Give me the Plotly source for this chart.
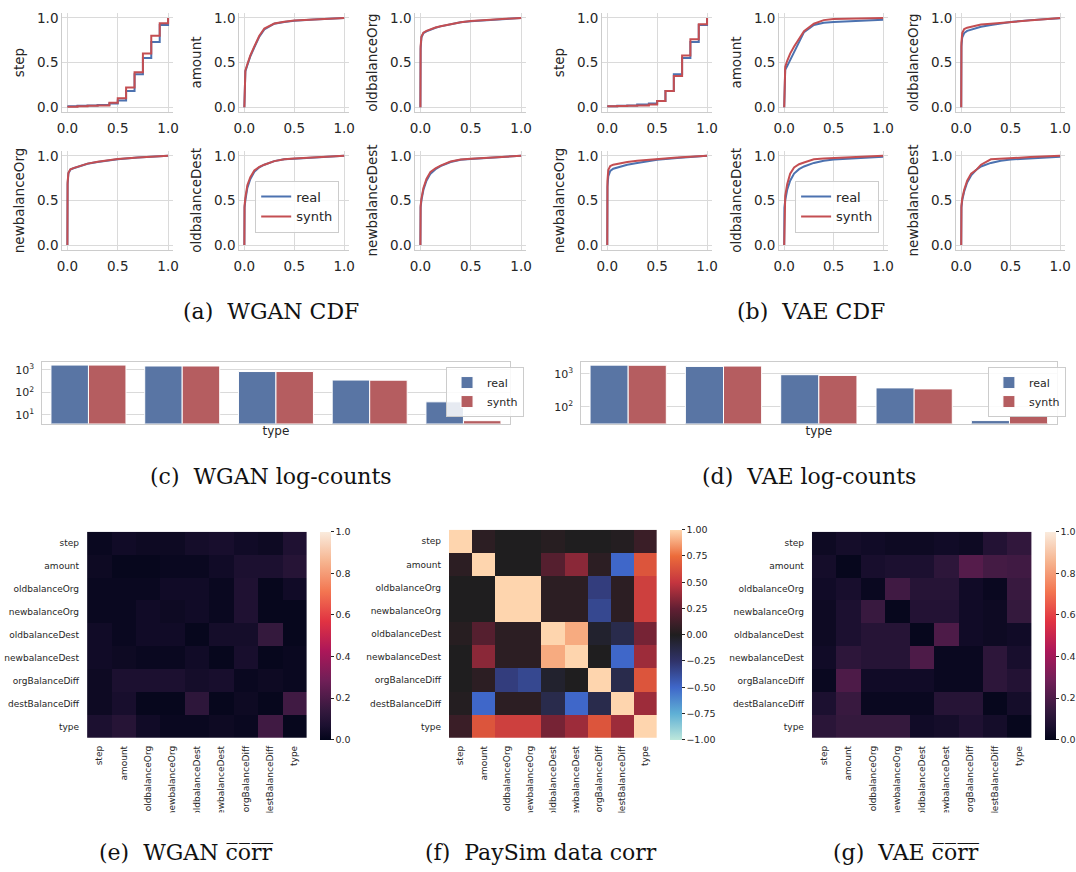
import plotly.graph_objects as go

W, H = 1076, 872

# ---------------- DATA ----------------
cdf_x = [0, 0.002, 0.01, 0.03, 0.06, 0.1, 0.15, 0.2, 0.3, 0.4, 0.5, 0.7, 1.0]

step_x = [0, 0.1, 0.2, 0.3, 0.417, 0.5, 0.583, 0.667, 0.75, 0.833, 0.917, 1.0]
wgan_step_real = [0.01, 0.015, 0.02, 0.025, 0.04, 0.075, 0.18, 0.37, 0.55, 0.73, 0.92, 1.0]
wgan_step_synth = [0.005, 0.01, 0.015, 0.02, 0.05, 0.10, 0.22, 0.39, 0.60, 0.80, 0.94, 1.0]
vae_step_real = [0.01, 0.015, 0.02, 0.03, 0.04, 0.07, 0.18, 0.37, 0.55, 0.73, 0.92, 1.0]
vae_step_synth = [0.01, 0.012, 0.015, 0.02, 0.03, 0.07, 0.18, 0.35, 0.58, 0.76, 0.93, 1.0]

wgan_amount_real = [0, 0.20, 0.40, 0.47, 0.57, 0.67, 0.79, 0.87, 0.935, 0.955, 0.968, 0.982, 1.0]
wgan_amount_synth = [0, 0.25, 0.41, 0.48, 0.58, 0.68, 0.80, 0.88, 0.937, 0.957, 0.970, 0.983, 1.0]
wgan_obo_real = [0, 0.65, 0.78, 0.83, 0.85, 0.87, 0.89, 0.905, 0.93, 0.95, 0.962, 0.98, 1.0]
wgan_obo_synth = [0, 0.68, 0.79, 0.835, 0.855, 0.873, 0.892, 0.907, 0.932, 0.952, 0.964, 0.981, 1.0]
wgan_nbo_real = [0, 0.68, 0.80, 0.845, 0.86, 0.875, 0.895, 0.91, 0.93, 0.95, 0.962, 0.98, 1.0]
wgan_nbo_synth = [0, 0.70, 0.81, 0.848, 0.862, 0.878, 0.897, 0.912, 0.932, 0.951, 0.963, 0.981, 1.0]
wgan_obd_real = [0, 0.42, 0.50, 0.64, 0.74, 0.82, 0.87, 0.90, 0.94, 0.96, 0.968, 0.98, 1.0]
wgan_obd_synth = [0, 0.44, 0.53, 0.67, 0.76, 0.835, 0.875, 0.90, 0.94, 0.962, 0.97, 0.982, 1.0]
wgan_nbd_real = [0, 0.42, 0.50, 0.62, 0.72, 0.80, 0.85, 0.885, 0.93, 0.955, 0.965, 0.98, 1.0]
wgan_nbd_synth = [0, 0.44, 0.52, 0.64, 0.74, 0.82, 0.86, 0.89, 0.935, 0.957, 0.967, 0.981, 1.0]

vae_amount_real = [0, 0.30, 0.42, 0.46, 0.53, 0.62, 0.73, 0.84, 0.92, 0.945, 0.955, 0.968, 0.98]
vae_amount_synth = [0, 0.35, 0.45, 0.52, 0.60, 0.68, 0.76, 0.85, 0.935, 0.975, 0.988, 0.995, 1.0]
vae_obo_real = [0, 0.68, 0.78, 0.83, 0.855, 0.87, 0.885, 0.90, 0.92, 0.94, 0.955, 0.975, 0.995]
vae_obo_synth = [0, 0.72, 0.83, 0.875, 0.89, 0.90, 0.915, 0.925, 0.935, 0.945, 0.955, 0.975, 1.0]
vae_nbo_real = [0, 0.65, 0.77, 0.83, 0.855, 0.87, 0.885, 0.90, 0.92, 0.94, 0.955, 0.975, 1.0]
vae_nbo_synth = [0, 0.72, 0.84, 0.885, 0.90, 0.91, 0.92, 0.93, 0.945, 0.955, 0.965, 0.98, 1.0]
vae_obd_real = [0, 0.42, 0.50, 0.62, 0.72, 0.80, 0.85, 0.88, 0.92, 0.945, 0.958, 0.972, 0.99]
vae_obd_synth = [0, 0.45, 0.55, 0.68, 0.80, 0.87, 0.905, 0.925, 0.96, 0.97, 0.975, 0.985, 1.0]
vae_nbd_real = [0, 0.42, 0.50, 0.60, 0.70, 0.78, 0.84, 0.88, 0.92, 0.945, 0.958, 0.972, 0.99]
vae_nbd_synth = [0, 0.44, 0.52, 0.62, 0.72, 0.80, 0.84, 0.90, 0.96, 0.968, 0.972, 0.985, 1.0]

type_cats = ["c1", "c2", "c3", "c4", "c5"]
wgan_counts_real = [1650, 1500, 850, 355, 38]
wgan_counts_synth = [1650, 1500, 850, 350, 5.5]
vae_counts_real = [1815, 1660, 935, 375, 39]
vae_counts_synth = [1800, 1700, 890, 350, 52]

feat = ["step", "amount", "oldbalanceOrg", "newbalanceOrg", "oldbalanceDest",
        "newbalanceDest", "orgBalanceDiff", "destBalanceDiff", "type"]

corr_wgan = [
    [0.02, 0.04, 0.03, 0.03, 0.05, 0.06, 0.04, 0.03, 0.08],
    [0.03, 0.01, 0.01, 0.02, 0.02, 0.04, 0.07, 0.07, 0.10],
    [0.02, 0.02, 0.02, 0.04, 0.04, 0.02, 0.08, 0.01, 0.04],
    [0.02, 0.02, 0.04, 0.03, 0.04, 0.02, 0.08, 0.01, 0.01],
    [0.04, 0.02, 0.04, 0.04, 0.01, 0.05, 0.05, 0.14, 0.01],
    [0.04, 0.03, 0.02, 0.02, 0.04, 0.01, 0.06, 0.01, 0.02],
    [0.03, 0.07, 0.07, 0.07, 0.05, 0.06, 0.02, 0.03, 0.02],
    [0.03, 0.06, 0.01, 0.01, 0.12, 0.01, 0.03, 0.01, 0.17],
    [0.07, 0.10, 0.04, 0.02, 0.02, 0.03, 0.02, 0.17, 0.01],
]
corr_paysim = [
    [1.00, 0.05, 0.00, 0.00, 0.03, 0.00, 0.00, 0.02, 0.10],
    [0.05, 1.00, 0.00, 0.00, 0.20, 0.35, 0.05, -0.50, 0.65],
    [0.00, 0.00, 1.00, 1.00, 0.05, 0.05, -0.30, 0.05, 0.55],
    [0.00, 0.00, 1.00, 1.00, 0.05, 0.05, -0.35, 0.05, 0.55],
    [0.03, 0.20, 0.05, 0.05, 1.00, 0.90, -0.05, -0.15, 0.30],
    [0.00, 0.35, 0.05, 0.05, 0.90, 1.00, 0.00, -0.50, 0.40],
    [0.00, 0.05, -0.30, -0.35, -0.05, 0.00, 1.00, -0.15, 0.65],
    [0.02, -0.50, 0.05, 0.05, -0.15, -0.50, -0.15, 1.00, 0.40],
    [0.10, 0.65, 0.55, 0.55, 0.30, 0.40, 0.65, 0.40, 1.00],
]
corr_vae = [
    [0.03, 0.05, 0.04, 0.03, 0.03, 0.04, 0.03, 0.09, 0.13],
    [0.05, 0.01, 0.06, 0.07, 0.07, 0.12, 0.22, 0.18, 0.17],
    [0.04, 0.06, 0.02, 0.17, 0.10, 0.10, 0.04, 0.02, 0.15],
    [0.03, 0.07, 0.15, 0.01, 0.09, 0.09, 0.04, 0.03, 0.14],
    [0.03, 0.07, 0.10, 0.10, 0.01, 0.20, 0.04, 0.03, 0.04],
    [0.04, 0.12, 0.10, 0.10, 0.20, 0.02, 0.02, 0.12, 0.06],
    [0.02, 0.20, 0.04, 0.04, 0.04, 0.02, 0.02, 0.12, 0.09],
    [0.07, 0.15, 0.02, 0.02, 0.02, 0.10, 0.10, 0.01, 0.05],
    [0.11, 0.14, 0.14, 0.14, 0.04, 0.05, 0.08, 0.05, 0.01],
]

# ---------------- STYLE ----------------
BLUE = "#4c72b0"
RED = "#c44e52"
BAR_BLUE = "#5975a4"
BAR_RED = "#b55d60"
TXT = "#262626"
GRID = "#dadada"
SPINE = "#cccccc"

rocket = [[0.0, "#03051a"], [0.07, "#1c1030"], [0.143, "#35193e"], [0.286, "#701f57"],
          [0.429, "#ad1759"], [0.571, "#e13342"], [0.714, "#f37651"],
          [0.857, "#f6b48f"], [1.0, "#faebdd"]]
icefire = [[0.0, "#bde7db"], [0.125, "#5fb0d5"], [0.25, "#3f67c9"], [0.375, "#30336a"],
           [0.5, "#1f1e1f"], [0.625, "#621f33"], [0.75, "#c5353f"],
           [0.875, "#ec6b3a"], [1.0, "#fed5ae"]]


def dx(a, b):
    return [a / W, b / W]


def dy(top, bottom):
    return [1 - bottom / H, 1 - top / H]


fig = go.Figure()
layout = {}
counter = [0]


def new_axes(xpx, ypx, xcfg, ycfg):
    counter[0] += 1
    n = counter[0]
    sx = "" if n == 1 else str(n)
    xcfg = dict(xcfg, domain=dx(*xpx), anchor="y" + sx)
    ycfg = dict(ycfg, domain=dy(*ypx), anchor="x" + sx)
    layout["xaxis" + sx] = xcfg
    layout["yaxis" + sx] = ycfg
    return "x" + sx, "y" + sx


# ---------------- CDF PANELS ----------------
cdf_cols = {"wgan": [(57, 169), (236, 347), (414, 526)],
            "vae": [(603, 714), (782, 892), (961, 1071)]}
cdf_rows = [(9.5, 108.5), (148.5, 247.5)]

panels = {
    "wgan": [("step", step_x, wgan_step_real, wgan_step_synth, "hv"),
             ("amount", cdf_x, wgan_amount_real, wgan_amount_synth, "linear"),
             ("oldbalanceOrg", cdf_x, wgan_obo_real, wgan_obo_synth, "linear"),
             ("newbalanceOrg", cdf_x, wgan_nbo_real, wgan_nbo_synth, "linear"),
             ("oldbalanceDest", cdf_x, wgan_obd_real, wgan_obd_synth, "linear"),
             ("newbalanceDest", cdf_x, wgan_nbd_real, wgan_nbd_synth, "linear")],
    "vae": [("step", step_x, vae_step_real, vae_step_synth, "hv"),
            ("amount", cdf_x, vae_amount_real, vae_amount_synth, "linear"),
            ("oldbalanceOrg", cdf_x, vae_obo_real, vae_obo_synth, "linear"),
            ("newbalanceOrg", cdf_x, vae_nbo_real, vae_nbo_synth, "linear"),
            ("oldbalanceDest", cdf_x, vae_obd_real, vae_obd_synth, "linear"),
            ("newbalanceDest", cdf_x, vae_nbd_real, vae_nbd_synth, "linear")],
}

for model, legname in (("wgan", "legend"), ("vae", "legend2")):
    for i, (name, xs, yr, ys, shape) in enumerate(panels[model]):
        r, c = divmod(i, 3)
        common = dict(range=[-0.05, 1.05], tickvals=[0, 0.5, 1], tickformat=".1f",
                      showgrid=True, gridcolor=GRID, gridwidth=1.3, zeroline=False,
                      showline=True, linecolor=SPINE, linewidth=1.3, ticks="",
                      tickfont=dict(size=13.5, color=TXT))
        xa = dict(common, ticklabelstandoff=4)
        ya = dict(common, title=dict(text=name, font=dict(size=13.5, color=TXT), standoff=9))
        xr, yrf = new_axes(cdf_cols[model][c], cdf_rows[r], xa, ya)
        show = (i == 4)
        fig.add_trace(go.Scatter(x=xs, y=yr, mode="lines", line=dict(color=BLUE, width=2, shape=shape),
                                 name="real", xaxis=xr, yaxis=yrf, showlegend=show, legend=legname))
        fig.add_trace(go.Scatter(x=xs, y=ys, mode="lines", line=dict(color=RED, width=2, shape=shape),
                                 name="synth", xaxis=xr, yaxis=yrf, showlegend=show, legend=legname))

# ---------------- BAR CHARTS ----------------
bar_specs = [((36, 510), (361, 423), [0.61, 3.35], [10, 100, 1000],
              ["10<sup>1</sup>", "10<sup>2</sup>", "10<sup>3</sup>"],
              wgan_counts_real, wgan_counts_synth, "legend3"),
             ((581, 1063), (361, 423), [1.50, 3.35], [100, 1000],
              ["10<sup>2</sup>", "10<sup>3</sup>"],
              vae_counts_real, vae_counts_synth, "legend4")]
for xpx, ypx, yrng, tv, tt, real, synth, legname in bar_specs:
    xa = dict(type="category", range=[-0.5, 4.5], showticklabels=False, showgrid=False,
              showline=True, mirror=True, linecolor=SPINE, linewidth=1.3, ticks="",
              title=dict(text="type", font=dict(size=12, color=TXT), standoff=2))
    ya = dict(type="log", range=yrng, tickvals=tv, ticktext=tt, showgrid=True, gridcolor=GRID,
              gridwidth=1.3, showline=True, mirror=True, linecolor=SPINE, linewidth=1.3,
              ticks="", zeroline=False, tickfont=dict(size=11, color=TXT), ticklabelstandoff=4)
    xr, yrf = new_axes(xpx, ypx, xa, ya)
    fig.add_trace(go.Bar(x=type_cats, y=real, name="real", marker=dict(color=BAR_BLUE, line=dict(color="white", width=1)),
                         xaxis=xr, yaxis=yrf, legend=legname))
    fig.add_trace(go.Bar(x=type_cats, y=synth, name="synth", marker=dict(color=BAR_RED, line=dict(color="white", width=1)),
                         xaxis=xr, yaxis=yrf, legend=legname))

# ---------------- HEATMAPS ----------------
heat_specs = [((82, 304), (532, 740), corr_wgan, rocket, 0, 1, (318, 11),
               [0, 0.2, 0.4, 0.6, 0.8, 1.0], ".1f"),
              ((448, 658), (530, 740), corr_paysim, icefire, -1, 1, (671, 12),
               [-1, -0.75, -0.5, -0.25, 0, 0.25, 0.5, 0.75, 1.0], ".2f"),
              ((815, 1037), (532, 740), corr_vae, rocket, 0, 1, (1051, 11),
               [0, 0.2, 0.4, 0.6, 0.8, 1.0], ".1f")]
for xpx, ypx, z, cs, zmin, zmax, (cbx, cbw), cbt, cbf in heat_specs:
    xa = dict(showgrid=False, zeroline=False, ticks="", tickangle=-90,
              tickfont=dict(size=9, color=TXT), ticklabelstandoff=5)
    ya = dict(showgrid=False, zeroline=False, ticks="", autorange="reversed",
              tickfont=dict(size=9, color=TXT), ticklabelstandoff=7)
    xr, yrf = new_axes(xpx, ypx, xa, ya)
    fig.add_trace(go.Heatmap(
        z=z, x=feat, y=feat, colorscale=cs, zmin=zmin, zmax=zmax, xaxis=xr, yaxis=yrf,
        colorbar=dict(x=cbx / W, xanchor="left", y=1 - ypx[0] / H, yanchor="top",
                      len=ypx[1] - ypx[0], lenmode="pixels", thickness=cbw,
                      thicknessmode="pixels", outlinewidth=0, xpad=0, ypad=0,
                      ticks="outside", ticklen=3, tickcolor=TXT, tickvals=cbt,
                      tickformat=cbf, tickfont=dict(size=9.5, color=TXT))))

# ---------------- LEGENDS / CAPTIONS ----------------
leg_common = dict(bgcolor="rgba(255,255,255,0.85)", bordercolor=SPINE, borderwidth=1,
                  xanchor="left", yanchor="top", tracegroupgap=0)
layout["legend"] = dict(leg_common, x=252 / W, y=1 - 178 / H, font=dict(size=13, color=TXT))
layout["legend2"] = dict(leg_common, x=798 / W, y=1 - 178 / H, font=dict(size=13, color=TXT))
layout["legend3"] = dict(leg_common, x=445 / W, y=1 - 366 / H, font=dict(size=11, color=TXT))
layout["legend4"] = dict(leg_common, x=993 / W, y=1 - 366 / H, font=dict(size=11, color=TXT))

OV = "\u0305"
corr_bar = "".join(ch + OV for ch in "corr")
captions = [("(a)  WGAN CDF", 268, 310), ("(b)  VAE CDF", 814, 310),
            ("(c)  WGAN log-counts", 268, 476), ("(d)  VAE log-counts", 812, 476),
            ("(e)  WGAN " + corr_bar, 182, 855), ("(f)  PaySim data corr", 541, 855),
            ("(g)  VAE " + corr_bar, 910, 855)]
annotations = [dict(text=t, x=x / W, y=1 - y / H, xref="paper", yref="paper",
                    xanchor="center", yanchor="middle", showarrow=False,
                    font=dict(family="DejaVu Serif", size=22, color="#111111"))
               for t, x, y in captions]

shapes = [dict(type="rect", xref="paper", yref="paper", x0=0, x1=1,
               y0=0, y1=1 - 815 / H, fillcolor="white", line=dict(width=0), layer="above")]

fig.update_layout(
    width=W, height=H, margin=dict(l=0, r=0, t=0, b=0),
    paper_bgcolor="white", plot_bgcolor="white",
    font=dict(family="DejaVu Sans", color=TXT),
    barmode="group", bargap=0.2, bargroupgap=0,
    annotations=annotations, shapes=shapes,
    **layout)

fig.write_html("out.html")
